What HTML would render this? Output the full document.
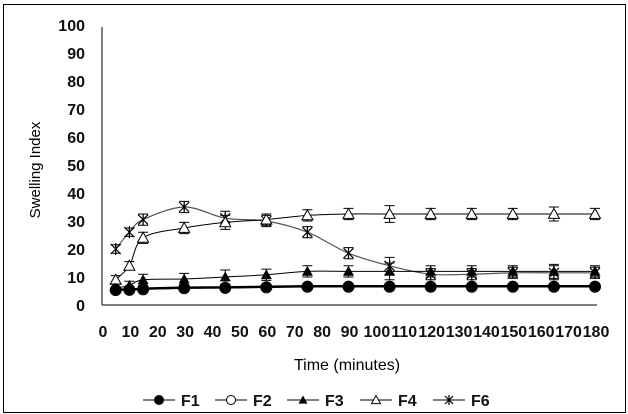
<!DOCTYPE html>
<html><head><meta charset="utf-8"><style>
body{margin:0;background:#fff;}
svg{display:block;font-family:"Liberation Sans",Arial,sans-serif;}
.tk{font-size:16px;font-weight:bold;fill:#111;}
</style></head><body>
<svg id="c" width="628" height="414">
<rect x="3.5" y="4.5" width="622" height="408" fill="none" stroke="#000"/>
<g id="axes"></g><g id="plot"></g><g id="legend"></g>
<text x="40" y="170" font-size="15" text-anchor="middle" transform="rotate(-90 40 170)">Swelling Index</text>
<text x="347" y="370" font-size="16" text-anchor="middle">Time (minutes)</text>
</svg>
<script>
const times=[5,10,15,30,45,60,75,90,105,120,135,150,165,180];
const f1=[5.5,5.5,5.8,6.2,6.3,6.5,6.7,6.7,6.7,6.7,6.7,6.7,6.7,6.7];
const f2=[5.3,5.4,5.6,6.0,6.1,6.3,6.5,6.5,6.5,6.5,6.5,6.5,6.5,6.5];
const f3=[6,7,9,9.3,10,10.8,12,12,12,12,12,12,12,12];
const f4=[9,14,24,27.5,29.5,30.5,32,32.5,32.5,32.5,32.5,32.5,32.5,32.5];
const f6=[20,26,30.5,35,31,30,26,18.5,14,11,11,11.5,11.5,11.5];
const errs=[1.5,1.5,2,2,2.5,2,2,2,3,2,2,2,2.5,2];
const yTicks=[0,10,20,30,40,50,60,70,80,90,100];
const xTicks=[0,10,20,30,40,50,60,70,80,90,100,110,120,130,140,150,160,170,180];
const NS='http://www.w3.org/2000/svg';
const X=t=>102+t*(493/180), Y=v=>305-v*2.8;
function mk(tag,attrs,parent){const e=document.createElementNS(NS,tag);for(const k in attrs)e.setAttribute(k,attrs[k]);parent.appendChild(e);return e;}
const ax=document.getElementById('axes'),pl=document.getElementById('plot'),lg=document.getElementById('legend');
let l=mk('line',{x1:102,y1:Y(100)+2,x2:102,y2:305,stroke:'#000'},ax);


l=mk('line',{x1:102,y1:305,x2:597,y2:305,stroke:'#000'},ax);


yTicks.forEach(v=>{const t=mk('text',{x:85,y:Y(v)+6,'text-anchor':'end',class:'tk'},ax);t.textContent=v;

});
xTicks.forEach(v=>{const t=mk('text',{x:X(v)+1,y:337,'text-anchor':'middle',class:'tk'},ax);t.textContent=v;

});
function marker(type,x,y,g,s){
 if(type==='dot')return mk('circle',{cx:x,cy:y,r:s||5.5,fill:'#000'},g);
 if(type==='ring')return mk('circle',{cx:x,cy:y,r:s||5.5,fill:'#fff',stroke:'#000'},g);
 if(type==='tri'){s=s||5.5;return mk('polygon',{points:`${x},${y-s} ${x-s},${y+s*0.8} ${x+s},${y+s*0.8}`,fill:'#000'},g);}
 if(type==='otri'){s=s||5.5;return mk('polygon',{points:`${x},${y-s} ${x-s},${y+s*0.8} ${x+s},${y+s*0.8}`,fill:'#fff',stroke:'#000'},g);}
 s=s||5;return mk('path',{d:`M${x-s},${y-s}L${x+s},${y+s}M${x-s},${y+s}L${x+s},${y-s}M${x},${y-s-1}L${x},${y+s+1}`,stroke:'#000','stroke-width':1.2,fill:'none'},g);
}
function smooth(pts){let d=`M${pts[0][0]},${pts[0][1]}`;for(let i=0;i<pts.length-1;i++){const p0=pts[i-1]||pts[i],p1=pts[i],p2=pts[i+1],p3=pts[i+2]||p2;
 d+=`C${p1[0]+(p2[0]-p0[0])/6},${p1[1]+(p2[1]-p0[1])/6} ${p2[0]-(p3[0]-p1[0])/6},${p2[1]-(p3[1]-p1[1])/6} ${p2[0]},${p2[1]}`;}return d;}
const series=[['F6',f6,'star','#555',1.2],['F4',f4,'otri','#000',1],['F3',f3,'tri','#000',1],['F2',f2,'ring','#000',1],['F1',f1,'dot','#000',2.5]];
series.forEach(([name,vals,m,col,w])=>{
 const g=mk('g',{},pl);
 
 
 const pts=vals.map((v,i)=>[X(times[i]),Y(v)]);
 mk('path',{d:smooth(pts),fill:'none',stroke:col,'stroke-width':w},g);
 vals.forEach((v,i)=>{const x=X(times[i]),e=errs[i]*2.8,y=Y(v);
  if(m!=='dot'&&m!=='ring'){mk('path',{d:`M${x},${y-e}V${y+e}M${x-5},${y-e}H${x+5}M${x-5},${y+e}H${x+5}`,stroke:'#000',fill:'none'},g);}
  const p=marker(m,x,y,g);
  
  });
});
const legendItems=[['F1','dot',143],['F2','ring',215],['F3','tri',287],['F4','otri',360],['F6','star',433]];
legendItems.forEach(([n,m,x])=>{const g=mk('g',{},lg);
 
 
 mk('line',{x1:x,y1:400,x2:x+32,y2:400,stroke:'#000'},g);
 marker(m,x+16,400,g,m==='star'?4:(m==='dot'?5:4.5));
 const t=mk('text',{x:x+38,y:406,class:'tk','font-size':'16'},g);t.textContent=n;});
</script>
</body></html>
